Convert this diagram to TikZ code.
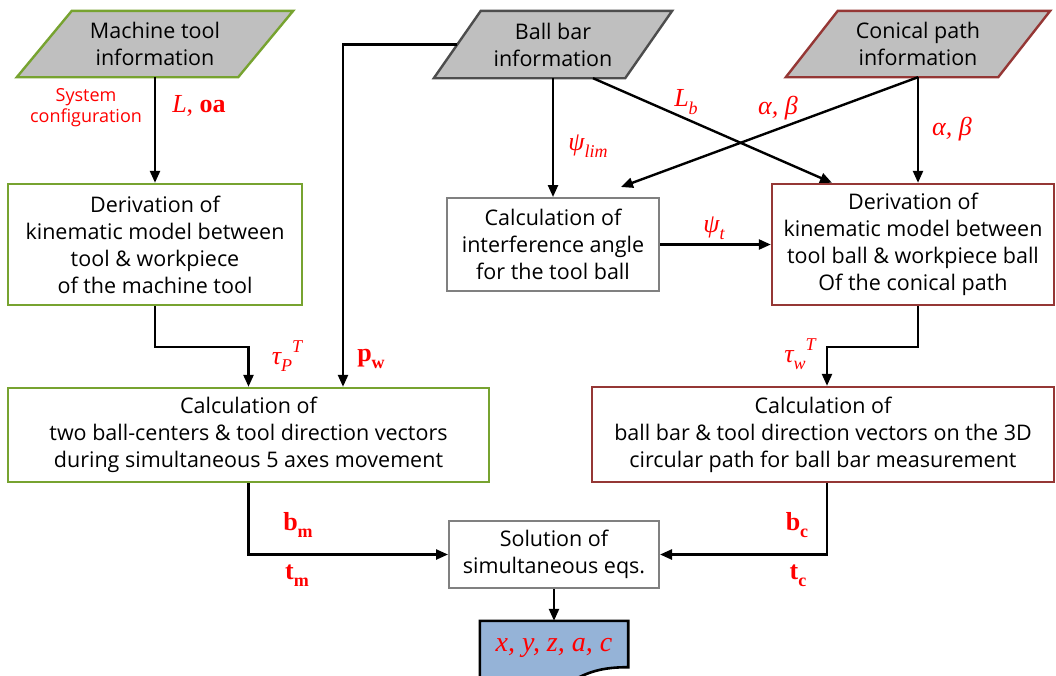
\documentclass[tikz,border=0pt]{standalone}
\usepackage{fontspec}
\setmainfont{Open Sans}
\newfontfamily\serif{Liberation Serif}
\usetikzlibrary{arrows.meta,calc}
\pgfdeclarelayer{bg}
\pgfsetlayers{bg,main}
\definecolor{grn}{RGB}{119,163,48}
\definecolor{rd}{RGB}{149,55,53}
\definecolor{gbox}{RGB}{128,128,128}
\definecolor{pfill}{RGB}{191,191,191}
\definecolor{dfill}{RGB}{149,179,215}
\definecolor{lab}{RGB}{255,0,0}
\newcommand\boxfont{\fontsize{21.5}{27}\selectfont}
\newcommand\labfont{\serif\fontsize{26}{26}\selectfont}
\newcommand\mysub[1]{\raisebox{-0.28em}{\fontsize{18}{18}\selectfont #1}}
\newcommand\myup[1]{\raisebox{0.45em}{\fontsize{18}{18}\selectfont #1}}
\tikzset{
  box/.style={draw, line width=2.4pt, fill=white, align=center, inner sep=0pt, font=\boxfont},
  gbox/.style={box, draw=grn},
  rbox/.style={box, draw=rd},
  kbox/.style={box, draw=gbox, line width=2pt},
  ptext/.style={align=center, inner sep=0pt, font=\boxfont},
  para/.style={fill=pfill, line width=2.4pt, line join=miter},
  arr/.style={line width=2.4pt, -{Triangle[length=12pt,width=10pt]}},
  lab/.style={text=lab, font=\labfont, inner sep=0pt},
}
\begin{document}
\begin{tikzpicture}[x=1pt,y=-1pt]
\clip (0,0) rectangle (1056,675);

% input parallelograms (text nodes)
\node[ptext, minimum width=276pt, minimum height=66pt] (mt) at (155,44) {Machine tool\\information};
\node[ptext, minimum width=238pt, minimum height=67pt] (bb) at (553,44.5) {Ball bar\\information};
\node[ptext, minimum width=264pt, minimum height=66pt] (cp) at (918,44) {Conical path\\information};
\begin{pgfonlayer}{bg}
\fill[white] (0,0) rectangle (1056,675);
\draw[para, draw=grn] ([xshift=55pt]mt.north west) -- (mt.north east) -- ([xshift=-55pt]mt.south east) -- (mt.south west) -- cycle;
\draw[para, draw=gbox!60!black] ([xshift=47pt]bb.north west) -- (bb.north east) -- ([xshift=-47pt]bb.south east) -- (bb.south west) -- cycle;
\draw[para, draw=rd] ([xshift=52pt]cp.north west) -- (cp.north east) -- ([xshift=-52pt]cp.south east) -- (cp.south west) -- cycle;
\end{pgfonlayer}

% process boxes
\node[gbox, minimum width=294pt, minimum height=121pt] (d1) at (155,244.5) {Derivation of\\kinematic model between\\tool \& workpiece\\of the machine tool};
\node[kbox, minimum width=212pt, minimum height=93pt] (ia) at (553,244.5) {Calculation of\\interference angle\\for the tool ball};
\node[rbox, minimum width=282pt, minimum height=121pt] (d2) at (913,244.5) {Derivation of\\kinematic model between\\tool ball \& workpiece ball\\Of the conical path};
\node[gbox, minimum width=481pt, minimum height=94pt] (c1) at (248.5,435) {Calculation of\\two ball-centers \& tool direction vectors\\during simultaneous 5 axes movement};
\node[rbox, minimum width=462pt, minimum height=95pt] (c2) at (823,434.5) {Calculation of\\ball bar \& tool direction vectors on the 3D\\circular path for ball bar measurement};
\node[kbox, minimum width=210pt, minimum height=67pt] (sol) at (554,554.5) {Solution of\\simultaneous eqs.};

% output document
\node[inner sep=0pt, minimum width=148pt, minimum height=54pt, text=lab, font={\serif\fontsize{28}{28}\selectfont\itshape}] (doc) at (554,648) {x, y, z, a, c};
\begin{pgfonlayer}{bg}
\draw[fill=dfill, line width=2.6pt, line join=miter]
  (doc.north west) -- (doc.north east) -- ([yshift=8pt]doc.south east)
  .. controls ([xshift=-25pt,yshift=8pt]doc.south east) and ([xshift=-40pt,yshift=4pt]doc.south east) .. ([xshift=-60pt,yshift=-8pt]doc.south east)
  -- ([yshift=-12pt]doc.south west) -- cycle;
\end{pgfonlayer}

% connectors
\coordinate (bbw) at ($(bb.west)+(23.5,0)$);
\draw[arr] (mt.south) -- (d1.north);
\draw[arr] (bbw) -| ([xshift=94.5pt]c1.north);
\draw[arr] (d1.south) -- ++(0,41) -| (c1.north);
\draw[arr] (bb.south) -- (ia.north);
\draw[arr] ([xshift=40pt]bb.south) -- ([xshift=-81pt]d2.north);
\draw[arr] (cp.south) -- ([xshift=68pt,yshift=10pt]ia.north);
\draw[arr] (cp.south) -- (cp.south |- d2.north);
\draw[arr] (ia.east) -- (ia.east -| d2.west);
\draw[arr] (d2.south -| cp.south) -- ++(0,41) -| ([xshift=4pt]c2.north);
\draw[arr] (c1.south) |- (sol.west);
\draw[arr] ([xshift=4pt]c2.south) |- (sol.east);
\draw[arr] (sol.south) -- (doc.north);

% labels
\node[text=lab, align=center, inner sep=0pt, font=\fontsize{18}{21}\selectfont] (sc) at (86,108) {System\\configuration};
\node[lab] (l1) at (199,106) {\itshape L\upshape, \bfseries oa};
\node[lab] (l2) at (588,146) {\itshape ψ\mysub{lim}};
\node[lab] (l3) at (686,102) {\itshape L\mysub{b}};
\node[lab] (l4) at (778,108) {\itshape α, β};
\node[lab] (l5) at (952,129) {\itshape α, β};
\node[lab] (l6) at (714,228) {\itshape ψ\mysub{t}};
\node[lab] (l7) at (287,356) {\itshape τ\mysub{P}\myup{T}};
\node[lab] (l8) at (371,359) {\bfseries p\mysub{\bfseries w}};
\node[lab] (l9) at (800,354) {\itshape τ\mysub{w}\myup{T}};
\node[lab] (l10) at (298,525) {\bfseries b\mysub{\bfseries m}};
\node[lab] (l11) at (297,576) {\bfseries t\mysub{\bfseries m}};
\node[lab] (l12) at (797,525) {\bfseries b\mysub{\bfseries c}};
\node[lab] (l13) at (798,576) {\bfseries t\mysub{\bfseries c}};
\end{tikzpicture}
\end{document}
